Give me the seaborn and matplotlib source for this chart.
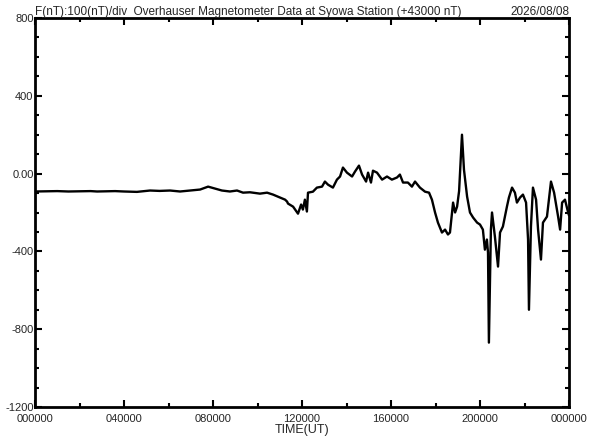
import numpy as np
import pandas as pd
import matplotlib
matplotlib.use('Agg')
import matplotlib.pyplot as plt
import seaborn as sns

# hours (UT) and F deviation from 43000 nT
hours = [0.0, 0.5, 1.0, 1.5, 2.0, 2.5, 2.79, 3.2, 3.6, 4.0, 4.58, 5.17, 5.6,
         6.07, 6.52, 6.97, 7.42, 7.78, 8.09, 8.40, 8.76, 9.08, 9.35, 9.66,
         10.11, 10.43, 10.70, 11.01, 11.24, 11.33, 11.37, 11.60, 11.82, 11.96,
         12.04, 12.13, 12.22, 12.27, 12.49, 12.67, 12.90, 13.03, 13.17, 13.39,
         13.57, 13.71, 13.84, 14.02, 14.25, 14.38, 14.56, 14.70, 14.88, 14.97,
         15.10, 15.19, 15.28, 15.37, 15.60, 15.82, 16.04, 16.27, 16.40, 16.54,
         16.76, 16.94, 17.08, 17.30, 17.53, 17.71, 17.84, 17.98, 18.11, 18.29,
         18.43, 18.56, 18.65, 18.79, 18.88, 18.97, 19.06, 19.19, 19.28, 19.42,
         19.55, 19.69, 19.87, 20.00, 20.13, 20.22, 20.31, 20.36, 20.40, 20.49,
         20.54, 20.67, 20.81, 20.90, 21.03, 21.21, 21.30, 21.44, 21.57, 21.66,
         21.80, 21.93, 22.07, 22.16, 22.20, 22.29, 22.38, 22.52, 22.61, 22.74,
         22.83, 23.01, 23.19, 23.33, 23.51, 23.60, 23.69, 23.82, 23.96, 24.0]
f_nt = [-92, -91, -90, -92, -91, -90, -92, -91, -90, -92, -94, -87, -89,
        -87, -92, -87, -82, -67, -77, -87, -92, -87, -98, -96,
        -103, -98, -108, -123, -134, -144, -154, -170, -206, -159,
        -185, -134, -195, -98, -93, -72, -67, -41, -57, -72,
        -31, -15, 31, 5, -15, 10, 41, -5, -41, 5,
        -46, 15, 10, 5, -31, -15, -31, -20, -5, -46,
        -46, -67, -41, -72, -93, -98, -134, -200, -252, -303,
        -288, -313, -303, -149, -200, -170, -90, 200, 20, -118,
        -200, -226, -252, -262, -288, -391, -339, -406, -869, -288,
        -200, -324, -478, -303, -272, -170, -123, -72, -98, -149,
        -123, -108, -149, -339, -700, -272, -72, -134, -288, -442,
        -252, -221, -41, -98, -221, -288, -149, -134, -200, -215]

y_ticks = [800, 400, 0, -400, -800, -1200]
y_labels = ['800', '400', '0.00', '-400', '-800', '-1200']
x_ticks = [0, 4, 8, 12, 16, 20, 24]
x_labels = ['000000', '040000', '080000', '120000', '160000', '200000', '000000']

df = pd.DataFrame({'hour': hours, 'F': f_nt})

sns.set_style('ticks')
plt.rcParams['font.family'] = ['Liberation Sans', 'DejaVu Sans']

fig = plt.figure(figsize=(5.92, 4.40), dpi=100)
ax = fig.add_axes([35/592, 1-407/440, 534/592, 389/440])

sns.lineplot(data=df, x='hour', y='F', ax=ax, color='black', linewidth=1.7)

ax.set_xlim(0, 24)
ax.set_ylim(-1200, 800)
ax.set_xticks(x_ticks)
ax.set_xticklabels(x_labels)
ax.set_yticks(y_ticks)
ax.set_yticklabels(y_labels)
ax.set_xticks(np.arange(0, 25, 2), minor=True)
ax.set_yticks(np.arange(-1200, 801, 100), minor=True)
ax.tick_params(which='both', direction='in', top=True, right=True,
               labelsize=8, color='black', width=1.5)
ax.tick_params(which='major', length=5)
ax.tick_params(which='minor', length=3)
ax.tick_params(axis='y', pad=1)
ax.tick_params(axis='x', pad=5)
for s in ax.spines.values():
    s.set_linewidth(2)
    s.set_color('black')

ax.set_xlabel('TIME(UT)', fontsize=9, labelpad=0)
ax.set_ylabel('')
ax.set_title('F(nT):100(nT)/div  Overhauser Magnetometer Data at Syowa Station (+43000 nT)',
             loc='left', fontsize=8.5, pad=2)
ax.set_title('2026/08/08', loc='right', fontsize=8.5, pad=2)

fig.savefig('out.png', dpi=100)
